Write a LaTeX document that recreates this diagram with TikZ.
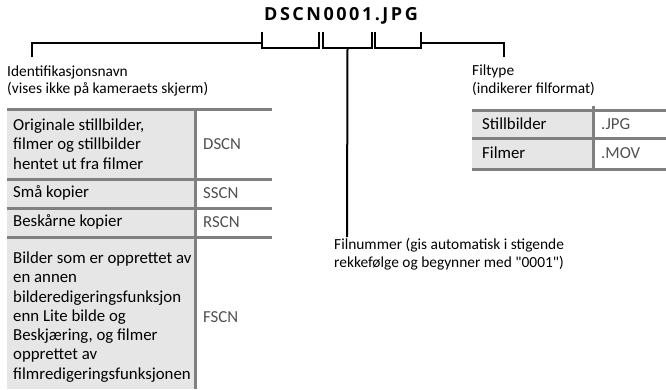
\documentclass[tikz,border=0pt]{standalone}
\usepackage{fontspec}
\setmainfont{Carlito}
\newfontfamily\titlefont{Open Sans}[LetterSpace=14]
\usetikzlibrary{positioning}
\definecolor{cellgray}{HTML}{E6E6E6}
\definecolor{rulegray}{HTML}{808080}
\definecolor{codegray}{HTML}{505050}
\tikzset{
  lbl/.style={font=\fontsize{15.4}{17.5}\selectfont, align=left, inner sep=0pt, anchor=west},
  cell/.style={lbl, font=\fontsize{16.8}{19.3}\selectfont},
  code/.style={cell, text=codegray},
  leader/.style={line width=2pt},
  rulebar/.style={rulegray, line width=3pt},
}

\begin{document}
\begin{tikzpicture}[x=1pt,y=-1pt]
    \useasboundingbox (0,0) rectangle (666,389);

    % File name
    \node[inner sep=0pt] (fname) at (341,16)
        {\titlefont\fontsize{18}{18}\selectfont\bfseries DSCN0001.JPG};

    % Brackets under the name
    \coordinate (idL) at (262,32);  \coordinate (idR) at (319,32);
    \coordinate (nrL) at (323,32);  \coordinate (nrR) at (372,32);
    \coordinate (tyL) at (375,32);  \coordinate (tyR) at (421,32);
    \begin{scope}[leader]
    \draw (idL) -- ++(0,16) -| (idR);
    \draw (nrL) -- ++(0,16) -| (nrR);
    \draw (tyL) -- ++(0,16) -| (tyR);
    \end{scope}
    \path (nrL) -- (nrR) coordinate[pos=0.5] (nrM);

    % Labels
    \node[lbl] (idname) at (7,81) {Identifikasjonsnavn\\(vises ikke på kameraets skjerm)};
    \node[lbl] (ftype) at (472,80) {Filtype\\(indikerer filformat)};
    \node[lbl] (fnum) at (334,254) {Filnummer (gis automatisk i stigende\\rekkefølge og begynner med \textquotedbl0001\textquotedbl)};
    \coordinate (idtip) at (32,57);
    \coordinate (tytip) at (504,57);
    \coordinate (nrtip) at (347,237);

    % Leaders
    \draw[leader] ([yshift=-11pt]idL) -| (idtip);
    \draw[leader] ([yshift=-11pt]tyR) -| (tytip);
    \draw[leader] ([yshift=-16pt]nrM) -- (nrtip);

    % Name table
    \fill[cellgray] (7,109) rectangle (195,389);
    \foreach \y in {109,179,208,237}
        \draw[rulebar] (7,\y) -- (272,\y);
    \draw[rulebar] (195,108) -- (195,389);
    \node[cell] (orig) at (13,144) {Originale stillbilder,\\filmer og stillbilder\\hentet ut fra filmer};
    \node[cell] (small) at (13,193) {Små kopier};
    \node[cell] (crop) at (13,222) {Beskårne kopier};
    \node[cell] (other) at (13,317) {Bilder som er opprettet av\\en annen\\bilderedigeringsfunksjon\\enn Lite bilde og\\Beskjæring, og filmer\\opprettet av\\filmredigeringsfunksjonen};
    \node[code] (dscn) at (203,144) {DSCN};
    \node[code] (sscn) at (203,193) {SSCN};
    \node[code] (rscn) at (203,222) {RSCN};
    \node[code] (fscn) at (203,317) {FSCN};

    % Type table
    \fill[cellgray] (472,110) rectangle (593,169);
    \foreach \y in {110,138,169}
        \draw[rulebar] (472,\y) -- (666,\y);
    \draw[rulebar] (593,106) -- (593,169);
    \node[cell] (still) at (482,124) {Stillbilder};
    \node[cell] (movie) at (482,153) {Filmer};
    \node[code] (jpg) at (601,124) {.JPG};
    \node[code] (mov) at (601,153) {.MOV};
\end{tikzpicture}
\end{document}
